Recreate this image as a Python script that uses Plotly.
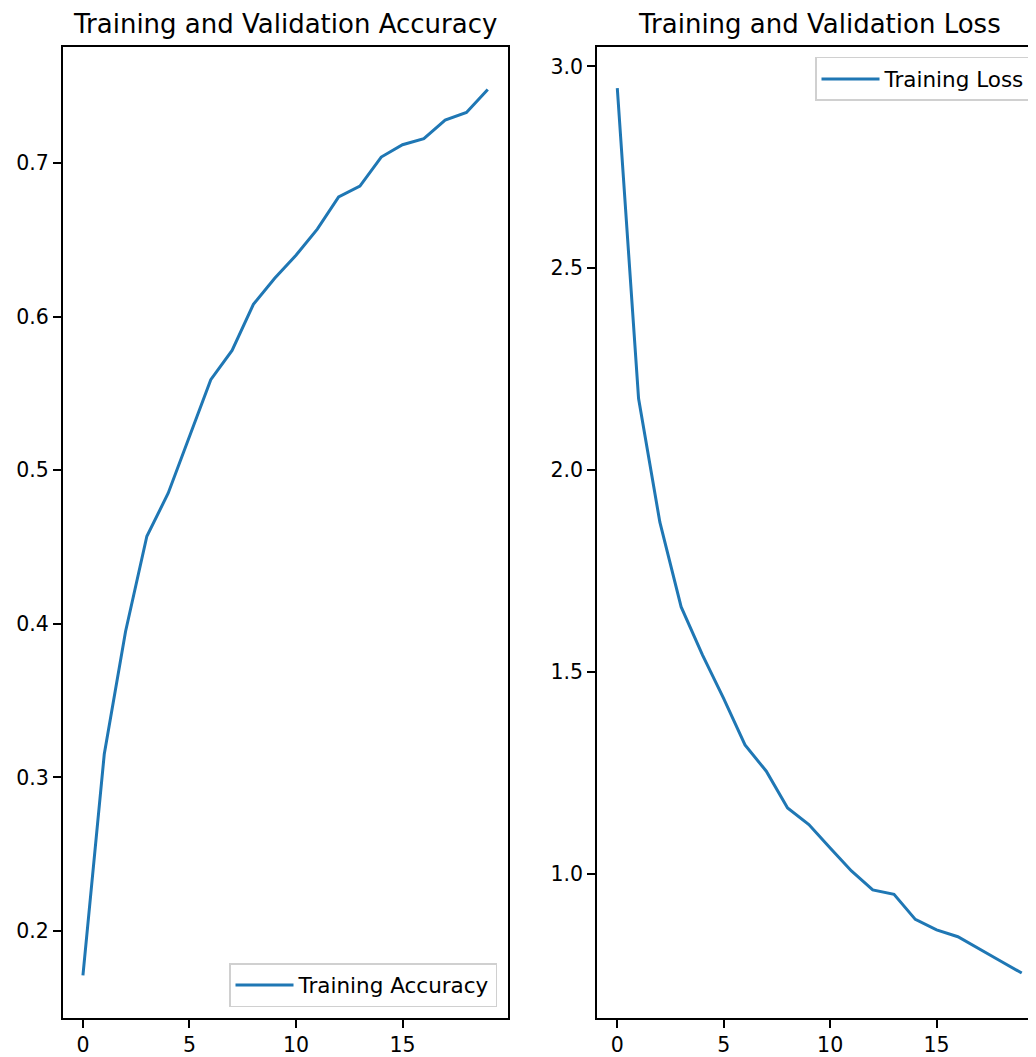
import plotly.graph_objects as go

epochs = list(range(20))
train_acc = [0.171, 0.315, 0.395, 0.457, 0.485, 0.522, 0.559, 0.578, 0.608, 0.625,
             0.640, 0.657, 0.678, 0.685, 0.704, 0.712, 0.716, 0.728, 0.733, 0.748]
train_loss = [2.946, 2.177, 1.871, 1.661, 1.542, 1.434, 1.319, 1.254, 1.163, 1.122,
              1.064, 1.007, 0.960, 0.949, 0.887, 0.861, 0.844, 0.815, 0.784, 0.754]

acc_ticks = [0.2, 0.3, 0.4, 0.5, 0.6, 0.7]
loss_ticks = [1.0, 1.5, 2.0, 2.5, 3.0]
x_ticks = [0, 5, 10, 15]

# page has an 8px body margin; figure coordinates are page coordinates minus 8
OFF = 8.0
W, H = 1028, 1049
BLUE = "#1f77b4"
FONT = "DejaVu Sans"
TICK_FS = 20.5
TITLE_FS = 26
LEG_FS = 21.5


def px(v):
    return (v - OFF) / W


def py(v):
    return 1 - (v - OFF) / H


fig = go.Figure()
fig.add_trace(go.Scatter(x=epochs, y=train_acc, mode="lines", name="Training Accuracy",
                         line=dict(color=BLUE, width=3), xaxis="x", yaxis="y", legend="legend"))
fig.add_trace(go.Scatter(x=epochs, y=train_loss, mode="lines", name="Training Loss",
                         line=dict(color=BLUE, width=3), xaxis="x2", yaxis="y2", legend="legend2"))

ydom = [py(1020.0), py(46.7)]
axcommon = dict(showgrid=False, zeroline=False, showline=True, linecolor="black", linewidth=1.6,
                ticks="outside", ticklen=8, tickwidth=1.6, tickcolor="black",
                tickfont=dict(family=FONT, size=TICK_FS, color="black"))

fig.update_layout(
    width=W, height=H,
    margin=dict(l=0, r=0, t=0, b=0),
    paper_bgcolor="white", plot_bgcolor="white",
    font=dict(family=FONT, color="black"),
    xaxis=dict(domain=[px(62.7), px(508.0)], range=[-0.95, 19.95], tickvals=x_ticks,
               mirror=True, anchor="y", **axcommon),
    yaxis=dict(domain=ydom, range=[0.1432, 0.7759], tickvals=acc_ticks,
               ticktext=[f"{v:.1f}" for v in acc_ticks], mirror=True, anchor="x", **axcommon),
    xaxis2=dict(domain=[px(597.0), 1.0], range=[-0.953, 19.67], tickvals=x_ticks,
                mirror=True, anchor="y2", **axcommon),
    yaxis2=dict(domain=ydom, range=[0.6425, 3.049], tickvals=loss_ticks,
                ticktext=[f"{v:.1f}" for v in loss_ticks], mirror=False, anchor="x2", **axcommon),
    legend=dict(x=px(497.0), y=py(1009.0), xanchor="right", yanchor="bottom",
                bgcolor="white", bordercolor="#d0d0d0", borderwidth=1.5, itemwidth=58,
                font=dict(family=FONT, size=LEG_FS, color="black")),
    legend2=dict(x=px(1031.0), y=py(57.0), xanchor="right", yanchor="top",
                 bgcolor="white", bordercolor="#d0d0d0", borderwidth=1.5, itemwidth=58,
                 font=dict(family=FONT, size=LEG_FS, color="black")),
    showlegend=True,
    annotations=[
        dict(text="Training and Validation Accuracy", x=px(285.4), y=py(41.0),
             xref="paper", yref="paper", xanchor="center", yanchor="bottom", showarrow=False,
             font=dict(family=FONT, size=TITLE_FS, color="black")),
        dict(text="Training and Validation Loss", x=px(819.5), y=py(41.0),
             xref="paper", yref="paper", xanchor="center", yanchor="bottom", showarrow=False,
             font=dict(family=FONT, size=TITLE_FS, color="black")),
    ],
)

fig.write_html("out.html")
